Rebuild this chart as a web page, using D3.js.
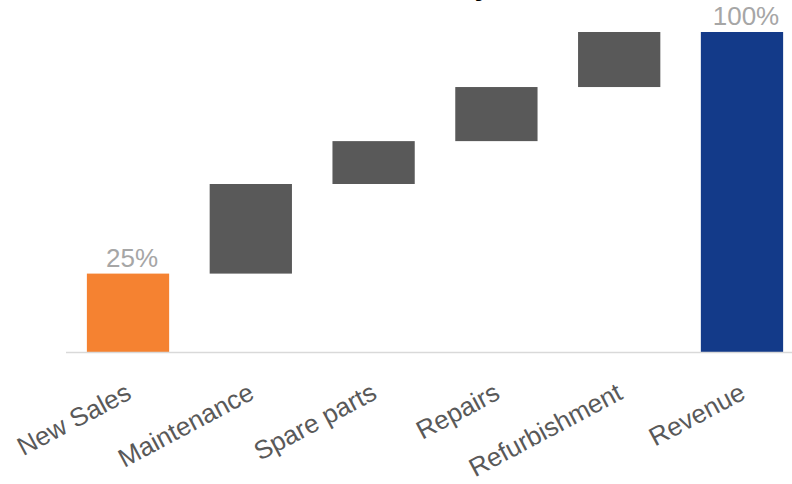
<!DOCTYPE html>
<html>
<head>
<meta charset="utf-8">
<script src="https://cdn.jsdelivr.net/npm/d3@7"></script>
<style>
  body { margin: 0; background: #fff; }
  svg { display: block; font-family: "Liberation Sans", Arial, sans-serif; }
</style>
</head>
<body>
<div id="chart"></div>
<script>
(function(){

  // data (percent of revenue)
  var categories = ["New Sales", "Maintenance", "Spare parts", "Repairs", "Refurbishment", "Revenue"];
  var steps = [24.5, 28.0, 13.4, 16.9, 17.2];
  var barLabels = ["25%", "", "", "", "", "100%"];
  var titleText = "Revenue by Source";

  var width = 792, height = 484;

  var svg = d3.select("#chart").append("svg")
    .attr("width", width)
    .attr("height", height);

  // build waterfall pieces
  var rows = [];
  var running = 0;
  steps.forEach(function(v, i){
    rows.push({name: categories[i], start: running, end: running + v, label: barLabels[i], kind: i == 0 ? "first" : "step"});
    running += v;
  });
  rows.push({name: categories[5], start: 0, end: running, label: barLabels[5], kind: "total"});

  var x = d3.scaleBand()
    .domain(categories)
    .range([66, 804])
    .paddingInner(0.33)
    .paddingOuter(0.17);

  var y = d3.scaleLinear()
    .domain([0, 100])
    .range([352, 32]);

  var colors = {first: "#f58231", step: "#595959", total: "#133a89"};

  // title, mostly cut off by the top edge (as in the source picture)
  svg.append("text")
    .attr("x", 462)
    .attr("y", -5)
    .attr("text-anchor", "middle")
    .attr("font-size", 30)
    .attr("font-weight", "bold")
    .attr("fill", "#000")
    .text(titleText);

  svg.selectAll("rect.bar")
    .data(rows)
    .enter()
    .append("rect")
    .attr("class", "bar")
    .attr("x", function(d){ return x(d.name); })
    .attr("width", x.bandwidth())
    .attr("y", function(d){ return y(d.end); })
    .attr("height", function(d){ return y(d.start) - y(d.end); })
    .attr("fill", function(d){ return colors[d.kind]; });

  // baseline axis
  var axis = svg.append("g")
    .attr("transform", "translate(0," + y(0) + ")")
    .call(d3.axisBottom(x).tickSize(0).tickFormat(""));
  axis.select(".domain")
    .attr("d", "M66,0.5H792")
    .attr("stroke", "#d9d9d9")
    .attr("stroke-width", 1.5);

  svg.selectAll("text.cat")
    .data(categories)
    .enter()
    .append("text")
    .attr("class", "cat")
    .attr("text-anchor", "end")
    .attr("font-size", 26)
    .attr("fill", "#595959")
    .attr("transform", function(d){
      return "translate(" + (x(d) + x.bandwidth() / 2 + 5) + ",398) rotate(-28)";
    })
    .text(function(d){ return d; });

  svg.selectAll("text.val")
    .data(rows.filter(function(d){ return d.label != ""; }))
    .enter()
    .append("text")
    .attr("class", "val")
    .attr("text-anchor", "middle")
    .attr("font-size", 26)
    .attr("fill", "#a6a6a6")
    .attr("x", function(d){ return x(d.name) + x.bandwidth() / 2 + 4; })
    .attr("y", function(d){ return y(d.end) - 7; })
    .text(function(d){ return d.label; });

})();
</script>
</body>
</html>
